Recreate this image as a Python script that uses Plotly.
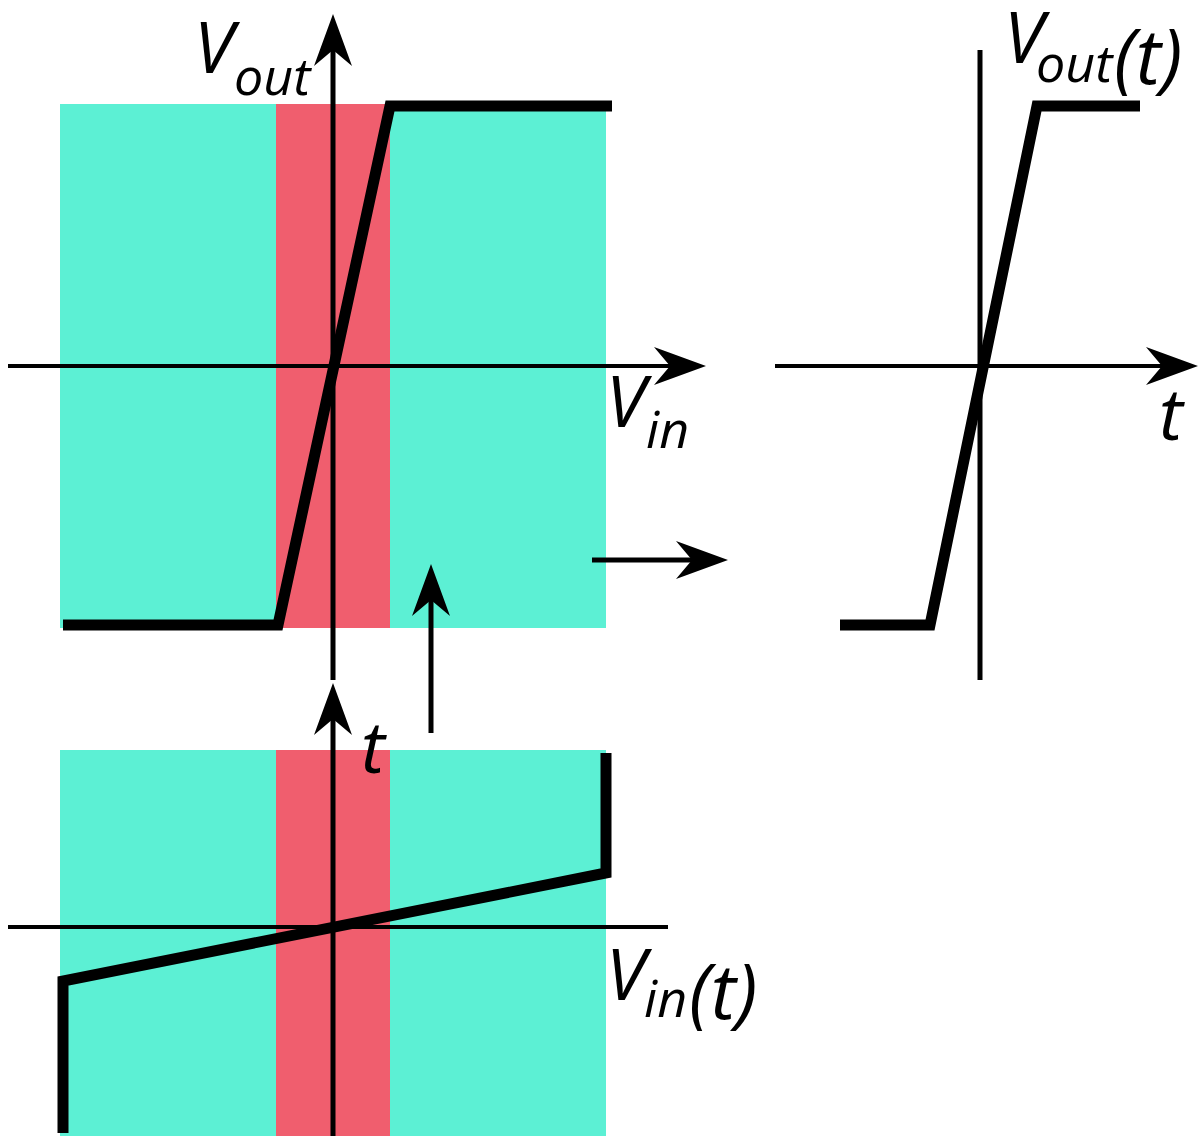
import plotly.graph_objects as go

W, H = 1199, 1136
CYAN = "#5CF0D4"
RED = "#F05E6E"
INK = "black"

# ---- drawing data (drawing units = pixel space of the figure) ----
# transfer characteristic Vout(Vin), top-left panel
transfer_x = [63, 278, 390, 612]
transfer_y = [625, 625, 106, 106]
# input waveform Vin(t), bottom panel
vin_t_x = [63, 63, 606, 606]
vin_t_y = [1133, 981, 873, 753]
# output waveform Vout(t), right panel
vout_t_x = [840, 930, 1037, 1140]
vout_t_y = [625, 625, 106, 106]

# shaded regions: (x0, x1, y0, y1, colour)
regions = [
    (60, 606, 104, 628, CYAN), (276, 390, 104, 628, RED),
    (60, 606, 750, 1136, CYAN), (276, 390, 750, 1136, RED),
]
# axis / helper lines: (x0, y0, x1, y1, width)
lines = [
    (8, 366, 690, 366, 4),      # Vin axis
    (333, 680, 333, 40, 5),     # Vout axis
    (8, 927, 668, 927, 4),      # Vin(t) baseline
    (333, 1136, 333, 710, 5),   # t axis (bottom)
    (775, 366, 1180, 366, 4),   # t axis (right)
    (980, 50, 980, 680, 5),     # Vout(t) axis
    (592, 560, 710, 560, 5),    # arrow to the right
    (431, 733, 431, 590, 5),    # arrow upward
]
# arrow heads: (tip_x, tip_y, dir_x, dir_y)
heads = [
    (706, 366, 1, 0), (333, 14, 0, -1), (728, 560, 1, 0),
    (431, 564, 0, -1), (333, 683, 0, -1), (1198, 366, 1, 0),
]
# labels: (text, left x, baseline y, size)
labels = [
    ("V", 193, 73, 72), ("out", 233, 95, 52),
    ("V", 605, 427, 72), ("in", 645, 448, 52),
    ("V", 1003, 63, 72), ("out", 1035, 82, 52), ("(t)", 1113, 84, 76),
    ("V", 605, 1000, 72), ("in", 643, 1017, 52), ("(t)", 688, 1019, 76),
    ("t", 360, 773, 72), ("t", 1158, 440, 72),
]

fig = go.Figure()

for x0, x1, y0, y1, c in regions:
    fig.add_shape(type="rect", x0=x0, x1=x1, y0=y0, y1=y1, fillcolor=c,
                  line=dict(width=0), layer="below", xref="x", yref="y")

for x0, y0, x1, y1, w in lines:
    fig.add_trace(go.Scatter(x=[x0, x1], y=[y0, y1], mode="lines",
                             line=dict(color=INK, width=w), hoverinfo="skip"))

L, HW, NOTCH = 52, 19, 16
for tx, ty, dx, dy in heads:
    px, py = -dy, dx
    bx, by = tx - dx * L, ty - dy * L
    nx, ny = tx - dx * (L - NOTCH), ty - dy * (L - NOTCH)
    xs = [tx, bx + px * HW, nx, bx - px * HW, tx]
    ys = [ty, by + py * HW, ny, by - py * HW, ty]
    fig.add_trace(go.Scatter(x=xs, y=ys, mode="lines", fill="toself",
                             fillcolor=INK, line=dict(width=0), hoverinfo="skip"))

for xs, ys in [(transfer_x, transfer_y), (vin_t_x, vin_t_y), (vout_t_x, vout_t_y)]:
    fig.add_trace(go.Scatter(x=xs, y=ys, mode="lines",
                             line=dict(color=INK, width=11), hoverinfo="skip"))

for txt, lx, base, size in labels:
    fig.add_annotation(x=lx, y=base - 0.39 * size, xref="x", yref="y",
                       text=f"<i>{txt}</i>", showarrow=False, borderpad=0,
                       xanchor="left", yanchor="middle",
                       font=dict(family="Open Sans", size=size, color=INK))

fig.update_layout(
    width=W, height=H, margin=dict(l=0, r=0, t=0, b=0),
    plot_bgcolor="white", paper_bgcolor="white", showlegend=False,
    xaxis=dict(range=[0, W], visible=False, fixedrange=True),
    yaxis=dict(range=[H, 0], visible=False, fixedrange=True),
)
fig.write_html("out.html", config={"displayModeBar": False},
               post_script="document.body.style.margin='0';")
